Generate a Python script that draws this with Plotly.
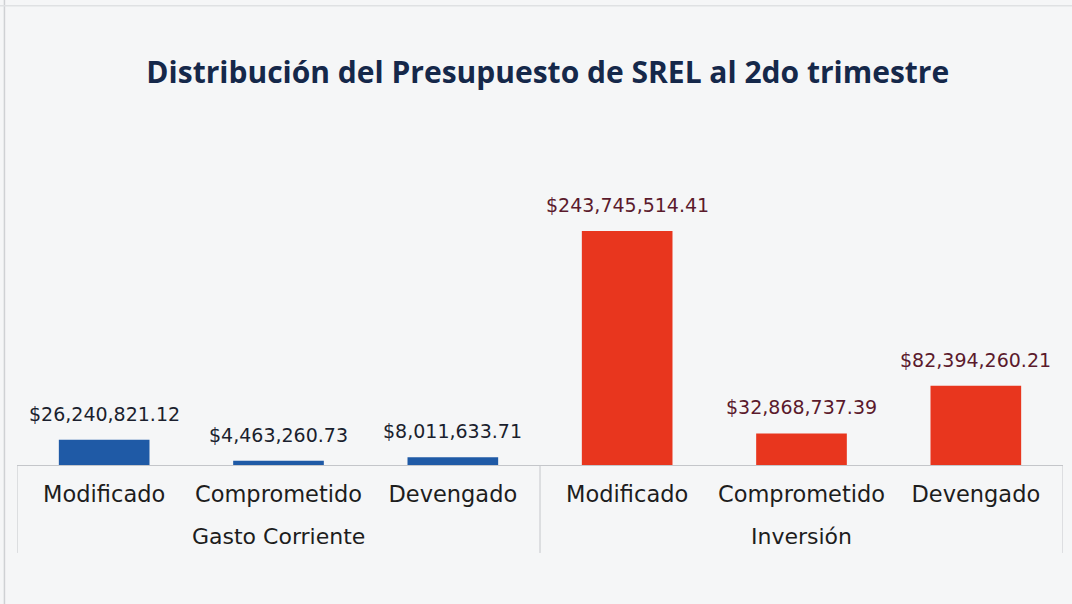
import plotly.graph_objects as go

stages = ["Modificado", "Comprometido", "Devengado"]
groups = ["Gasto Corriente", "Inversión"]
gasto_corriente = [26240821.12, 4463260.73, 8011633.71]
inversion = [243745514.41, 32868737.39, 82394260.21]

W, H = 1072, 604
ml, mr, mt, mb = 17, 9, 100, 139
ymax = 380e6
TFONT = "Open Sans"
LFONT = "DejaVu Sans"

series = [
    (gasto_corriente, "#1f5aa6", "#1b1f2e"),
    (inversion, "#e8361e", "#5b1a2c"),
]

fig = go.Figure()
tickvals, ticktext = [], []
annotations = []
for gi, (vals, color, tcolor) in enumerate(series):
    xs = [gi * len(stages) + i for i in range(len(stages))]
    tickvals += xs
    ticktext += stages
    fig.add_trace(go.Bar(
        x=xs, y=vals, width=0.52,
        marker=dict(color=color, line=dict(width=0)),
        hovertemplate="%{y:$,.2f}<extra></extra>",
    ))
    for x, v in zip(xs, vals):
        annotations.append(dict(
            x=x, y=v, xref="x", yref="y", text=f"${v:,.2f}", showarrow=False,
            yanchor="middle", yshift=26,
            font=dict(family=LFONT, size=19, color=tcolor)))
    annotations.append(dict(
        x=xs[1], y=-0.195, xref="x", yref="paper", text=groups[gi], showarrow=False,
        yanchor="middle", font=dict(family=LFONT, size=22, color="#1d1d1d")))

shapes = []
for xb in [-0.5, 2.5, 5.5]:
    shapes.append(dict(type="line", xref="x", yref="paper", x0=xb, x1=xb,
                       y0=0, y1=-0.241, line=dict(color="#c4c6ca", width=1)))
# outer frame of the panel
shapes.append(dict(type="line", xref="paper", yref="paper", x0=-0.012, x1=-0.012,
                   y0=-0.5, y1=1.3, line=dict(color="#cfd1d4", width=1.5)))
shapes.append(dict(type="line", xref="paper", yref="paper", x0=-0.02, x1=1.02,
                   y0=1.258, y1=1.258, line=dict(color="#dfe1e3", width=1.5)))

fig.update_layout(
    width=W, height=H,
    margin=dict(l=ml, r=mr, t=mt, b=mb),
    paper_bgcolor="#f5f6f7", plot_bgcolor="#f5f6f7",
    barmode="overlay", showlegend=False,
    title=dict(text="<b>Distribución del Presupuesto de SREL al 2do trimestre</b>",
               x=0.511, xanchor="center", y=0.88, yanchor="middle",
               font=dict(family=TFONT, size=30, color="#15284a")),
    font=dict(family=LFONT, color="#1d1d1d"),
    xaxis=dict(tickmode="array", tickvals=tickvals, ticktext=ticktext,
               range=[-0.5, 5.5], showline=True, linecolor="#c4c6ca", linewidth=1,
               tickfont=dict(family=LFONT, size=22.5, color="#1d1d1d"), ticks="",
               ticklen=0, ticklabelstandoff=9, showgrid=False, zeroline=False),
    yaxis=dict(visible=False, range=[0, ymax], showgrid=False, zeroline=False),
    annotations=annotations, shapes=shapes,
)
fig.write_html("out.html", config={"displayModeBar": False},
               post_script="document.body.style.margin='0';")
